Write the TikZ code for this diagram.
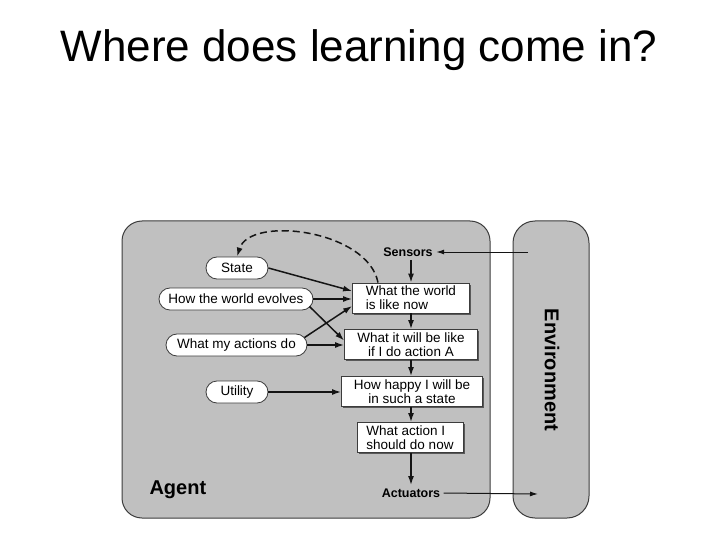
\documentclass[tikz,border=0pt]{standalone}
\usepackage{fontspec}
\setmainfont{Liberation Sans}
\usepackage{tikz}
\usetikzlibrary{arrows.meta, positioning, shadows}
\definecolor{agentgray}{RGB}{192,192,192}
\definecolor{framegray}{RGB}{60,60,60}
\definecolor{inkdark}{RGB}{20,20,20}
\newcommand{\labelfont}{\fontsize{13.5}{14}\selectfont}
\tikzset{
  pill/.style={rectangle, draw=framegray, fill=white,
    rounded corners=11pt, minimum height=22pt, inner sep=0pt,
    font=\labelfont, line width=0.8pt},
  stepbox/.style={rectangle, draw=framegray, fill=white,
    minimum height=30pt, inner sep=0pt, align=center,
    font=\labelfont, line width=0.8pt,
    drop shadow={shadow xshift=1.5pt, shadow yshift=-1.5pt, fill=black!65, opacity=1}},
  portlabel/.style={font=\fontsize{12.5}{13}\selectfont\bfseries},
  panel/.style={draw=framegray, fill=agentgray, line width=1pt},
  arrow/.style={-{Latex[length=9pt,width=6pt]}, line width=1.5pt, color=inkdark},
  thinarrow/.style={-{Latex[length=8pt,width=5pt]}, line width=1pt, color=inkdark}
}

\begin{document}
\begin{tikzpicture}[x=1pt, y=-1pt]
  \useasboundingbox (0,0) rectangle (720,540);

  % Title
  \node[anchor=base, font=\fontsize{44}{48}\selectfont] (title) at (359,62) {Where does learning come in?};

  % Agent and environment panels
  \draw[panel, rounded corners=20pt] (122,221) rectangle (490,518);
  \draw[panel, rounded corners=22pt] (513,221) rectangle (589,518);
  \node[rotate=-90, font=\fontsize{20}{22}\selectfont\bfseries] (envlabel) at (552,370) {Environment};
  \node[anchor=base west, font=\fontsize{20}{22}\selectfont\bfseries] (agentlabel) at (146,494) {Agent};

  % Sensors and actuators
  \node[portlabel] (sensors) at (408,252) {Sensors};
  \node[portlabel] (actuators) at (411,493) {Actuators};
  \coordinate (envin) at (528,252);
  \coordinate (envout) at (538,494);

  % Knowledge pills
  \node[pill, minimum width=62pt] (state) at (237,268) {State};
  \node[pill, minimum width=154pt] (evolves) at (236,299) {How the world evolves};
  \node[pill, minimum width=141pt] (actions) at (236.5,345) {What my actions do};
  \node[pill, minimum width=62pt] (utility) at (237,392) {Utility};

  % Decision chain
  \node[stepbox, minimum width=117pt, align=left] (world) at (411,298) {What the world\\is like now};
  \node[stepbox, minimum width=133pt] (predict) at (411,344.5) {What it will be like\\if I do action A};
  \node[stepbox, minimum width=141pt] (happy) at (412,391.5) {How happy I will be\\in such a state};
  \node[stepbox, minimum width=106pt, align=left] (choice) at (410,437.5) {What action I\\should do now};

  % Vertical flow
  \draw[arrow] (sensors.south -| world.north) -- (world.north);
  \draw[arrow] (world.south) -- (world.south |- predict.north);
  \draw[arrow] (world.south |- predict.south) -- (world.south |- happy.north);
  \draw[arrow] (world.south |- happy.south) -- (world.south |- choice.north);
  \draw[arrow] (world.south |- choice.south) -- (world.south |- actuators.north);

  % Inputs from the pills
  \draw[arrow] (state.east) -- ([yshift=7pt]world.west);
  \draw[arrow] (evolves.east) -- (evolves.east -| world.west);
  \draw[arrow] ([xshift=-4pt,yshift=4pt]evolves.south east) -- ([yshift=4pt]predict.west);
  \draw[arrow] ([xshift=-3pt,yshift=-4pt]actions.north east) -- ([yshift=-8pt]world.west);
  \draw[arrow] (actions.east) -- (actions.east -| predict.west);
  \draw[arrow] (utility.east) -- (utility.east -| happy.west);

  % State update loop
  \draw[arrow, dash pattern=on 7pt off 4pt] ([xshift=-33pt]world.north) .. controls (368,230) and (250,215) .. (state.north);

  % Environment links
  \draw[thinarrow] (envin) -- (sensors.east);
  \draw[thinarrow] (actuators.east) -- (envout);
\end{tikzpicture}
\end{document}
